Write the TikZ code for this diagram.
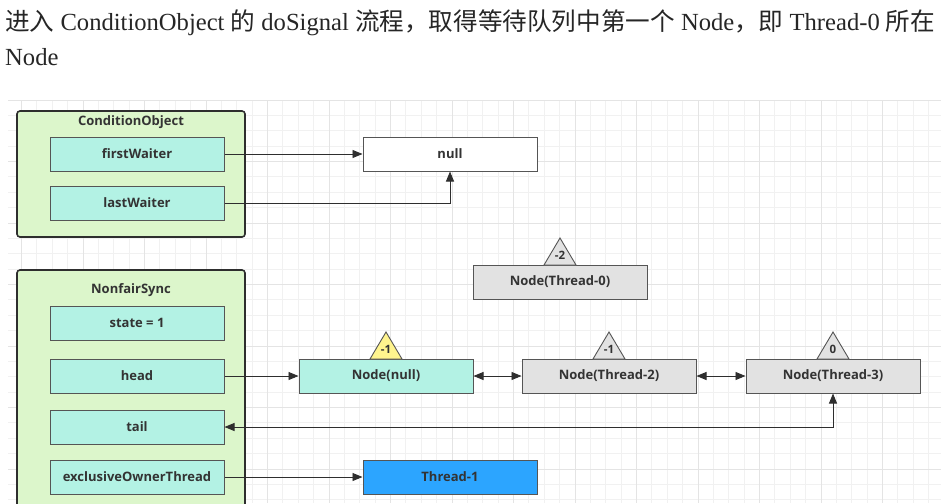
\documentclass[tikz,border=0pt]{standalone}
\usepackage{fontspec}
\setmainfont{Liberation Serif}
\newfontfamily\cjk{Noto Sans CJK SC}
\newfontfamily\lbl{Open Sans}
\usetikzlibrary{arrows.meta}
\definecolor{contfill}{HTML}{DCF6CB}
\definecolor{fieldfill}{HTML}{B3F2E4}
\definecolor{nodegray}{HTML}{E2E2E2}
\definecolor{triyellow}{HTML}{FFF48E}
\definecolor{thrblue}{HTML}{2CA5FF}
\definecolor{bordc}{HTML}{555555}
\definecolor{darkb}{HTML}{2E2E2E}
\definecolor{gridminor}{HTML}{F1F1F1}
\definecolor{gridmajor}{HTML}{E4E4E4}
\definecolor{txt}{HTML}{333333}
\tikzset{
  x=1pt, y=-1pt,
  lblfont/.style={font=\lbl\bfseries\fontsize{13}{15}\selectfont, text=txt},
  container/.style={draw=darkb, line width=1.6pt, rounded corners=3pt, fill=contfill},
  field/.style={draw=bordc, line width=1pt, fill=fieldfill, minimum width=174pt, minimum height=34pt, inner sep=0pt, lblfont},
  qnode/.style={field, fill=nodegray},
  tri/.style={draw=bordc, line width=0.9pt},
  trilabel/.style={font=\lbl\bfseries\fontsize{11.5}{13}\selectfont, text=txt, inner sep=0pt},
  conn/.style={draw=darkb, line width=0.9pt, -{Triangle[length=10pt,width=8pt]}},
  biconn/.style={draw=darkb, line width=0.9pt, {Triangle[length=10pt,width=8pt]}-{Triangle[length=10pt,width=8pt]}},
  title/.style={anchor=base west, inner sep=0pt, font=\fontsize{24.6}{27}\selectfont, text=black!85}
}
\begin{document}
\begin{tikzpicture}
\useasboundingbox (0,0) rectangle (941,503);
\fill[white] (0,0) rectangle (941,503);
% grid
\foreach \i in {0,...,60} {
  \pgfmathsetmacro{\xx}{698-15.375*(45-\i)}
  \ifdim\xx pt>8pt \draw[gridminor, line width=0.8pt] (\xx,100) -- (\xx,503);\fi
}
\foreach \j in {0,...,26} {
  \pgfmathsetmacro{\yy}{100+15.375*\j}
  \draw[gridminor, line width=0.8pt] (8,\yy) -- (941,\yy);
}
\foreach \i in {0,...,15} {
  \pgfmathsetmacro{\xx}{698-61.5*(11-\i)}
  \ifdim\xx pt>8pt \draw[gridmajor, line width=1pt] (\xx,100) -- (\xx,503);\fi
}
\foreach \j in {0,...,6} {
  \pgfmathsetmacro{\yy}{100+61.5*\j}
  \draw[gridmajor, line width=1pt] (8,\yy) -- (941,\yy);
}
% title
\node[title] (t1) at (5,31) {{\cjk 进入} ConditionObject {\cjk 的} doSignal {\cjk 流程，取得等待队列中第一个} Node{\cjk ，即} Thread-0 {\cjk 所在}};
\node[title] (t2) at (5,66) {Node};
% containers
\draw[container] (17,111) rectangle (245,237);
\node[lblfont] (co) at (131,122) {ConditionObject};
\draw[container] (17,270) rectangle (245,515);
\node[lblfont] (ns) at (131,290) {NonfairSync};
% fields
\node[field] (fw) at (137,154) {firstWaiter};
\node[field] (lw) at (137,203) {lastWaiter};
\node[field] (st) at (137,323) {state = 1};
\node[field] (hd) at (137,376) {head};
\node[field] (tl) at (137,427) {tail};
\node[field] (eo) at (137,477) {exclusiveOwnerThread};
% right side
\node[field, fill=white] (nl) at (450,154) {null};
\node[field, fill=thrblue] (t1n) at (450,477) {Thread-1};
\node[field] (nn) at (386,376) {Node(null)};
\node[qnode] (n2) at (609,376) {Node(Thread-2)};
\node[qnode] (n3) at (833,376) {Node(Thread-3)};
\node[qnode] (n0) at (560,282) {Node(Thread-0)};
% triangles
\filldraw[tri, fill=nodegray] (544,265) -- (560,238) -- (576,265) -- cycle;
\node[trilabel] (w0) at (560,255) {-2};
\filldraw[tri, fill=triyellow] (370,359) -- (386,332) -- (402,359) -- cycle;
\node[trilabel] (wn) at (386,349) {-1};
\filldraw[tri, fill=nodegray] (593,359) -- (609,332) -- (625,359) -- cycle;
\node[trilabel] (w2) at (609,349) {-1};
\filldraw[tri, fill=nodegray] (817,359) -- (833,332) -- (849,359) -- cycle;
\node[trilabel] (w3) at (833,349) {0};
% connectors
\draw[conn] (fw.east) -- (nl.west);
\draw[conn] (lw.east) -| (nl.south);
\draw[conn] (hd.east) -- (nn.west);
\draw[biconn] (nn.east) -- (n2.west);
\draw[biconn] (n2.east) -- (n3.west);
\draw[biconn] (tl.east) -| (n3.south);
\draw[conn] (eo.east) -- (t1n.west);
\end{tikzpicture}
\end{document}
